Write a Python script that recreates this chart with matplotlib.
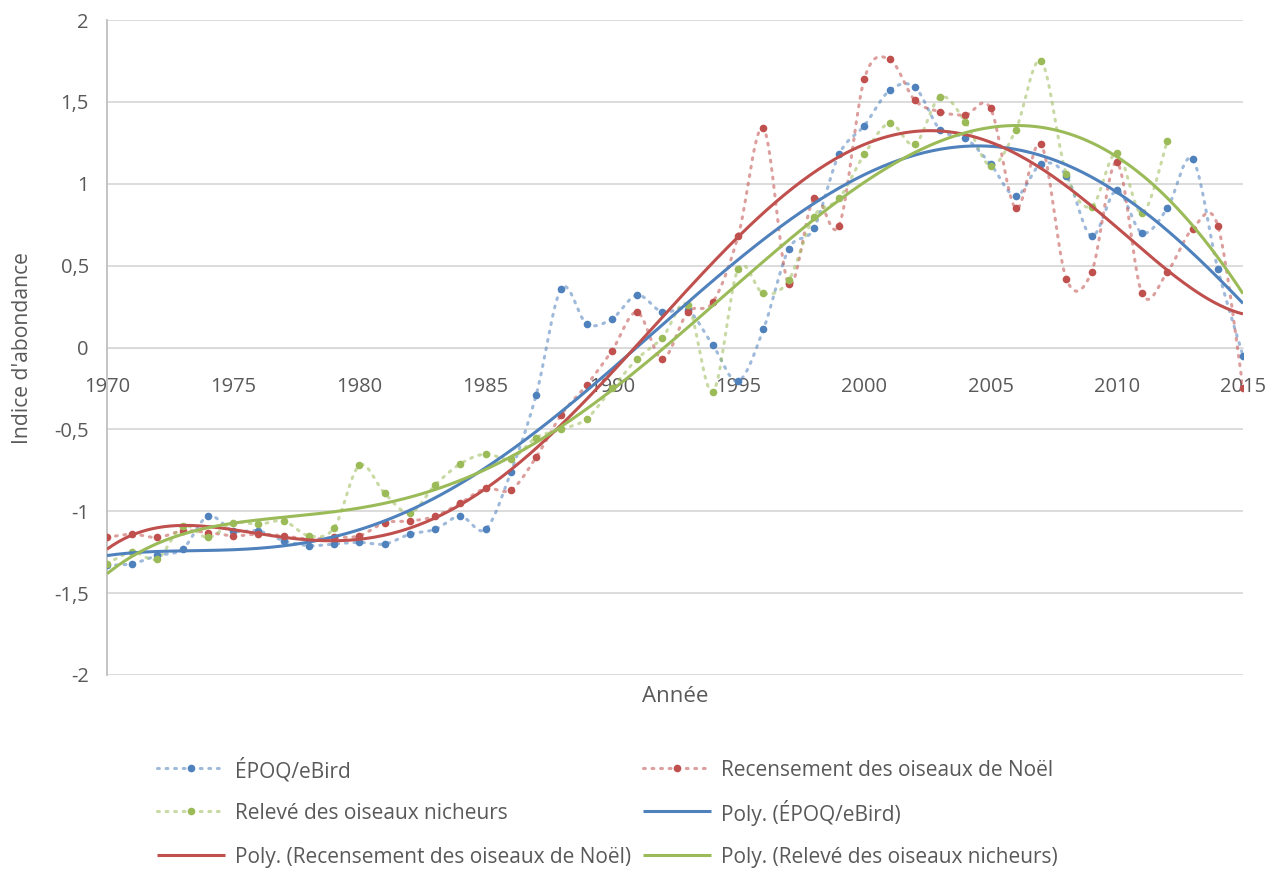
import numpy as np
import matplotlib
matplotlib.use("Agg")
import matplotlib.pyplot as plt
from matplotlib.lines import Line2D

plt.rcParams['font.family'] = ['Open Sans', 'DejaVu Sans']

years = list(range(1970, 2016))

epoq = [-1.33, -1.32, -1.27, -1.23, -1.03, -1.12, -1.12, -1.18, -1.21, -1.20,
        -1.19, -1.20, -1.14, -1.11, -1.03, -1.11, -0.76, -0.29, 0.36, 0.145,
        0.175, 0.32, 0.215, 0.23, 0.014, -0.205, 0.11, 0.60, 0.727, 1.18,
        1.355, 1.57, 1.59, 1.33, 1.28, 1.12, 0.925, 1.12, 1.05, 0.68,
        0.96, 0.70, 0.85, 1.15, 0.48, -0.05]

noel = [-1.16, -1.14, -1.16, -1.12, -1.13, -1.15, -1.14, -1.15, -1.17, -1.16,
        -1.15, -1.07, -1.06, -1.03, -0.95, -0.86, -0.87, -0.67, -0.41, -0.23,
        -0.02, 0.215, -0.07, 0.215, 0.277, 0.68, 1.34, 0.39, 0.91, 0.745,
        1.64, 1.76, 1.51, 1.44, 1.42, 1.46, 0.85, 1.24, 0.42, 0.46,
        1.13, 0.33, 0.46, 0.725, 0.745, -0.25]

nicheurs = [-1.32, -1.25, -1.29, -1.09, -1.16, -1.07, -1.08, -1.06, -1.15, -1.10,
            -0.72, -0.89, -1.01, -0.84, -0.71, -0.65, -0.68, -0.55, -0.50, -0.435,
            -0.25, -0.07, 0.06, 0.26, -0.27, 0.48, 0.33, 0.41, 0.80, 0.91,
            1.18, 1.37, 1.24, 1.53, 1.38, 1.11, 1.33, 1.75, 1.06, 0.86,
            1.19, 0.82, 1.26, None, None, None]

labels = ["ÉPOQ/eBird", "Recensement des oiseaux de Noël", "Relevé des oiseaux nicheurs"]
colors = ["#4F81BD", "#C0504D", "#9BBB59"]
x_ticks = [1970, 1975, 1980, 1985, 1990, 1995, 2000, 2005, 2010, 2015]
y_ticks = [-2, -1.5, -1, -0.5, 0, 0.5, 1, 1.5, 2]
y_tick_labels = ["-2", "-1,5", "-1", "-0,5", "0", "0,5", "1", "1,5", "2"]
poly_order = 5

W, H = 1271, 869


def smooth(x, y, n=20):
    """Excel-like smoothed line (Catmull-Rom Bezier)."""
    x = np.asarray(x, float); y = np.asarray(y, float)
    P = np.column_stack([x, y])
    out = [P[0]]
    for i in range(len(P) - 1):
        p0 = P[i - 1] if i > 0 else P[i]
        p1 = P[i]; p2 = P[i + 1]
        p3 = P[i + 2] if i + 2 < len(P) else P[i + 1]
        c1 = p1 + (p2 - p0) / 6.0
        c2 = p2 - (p3 - p1) / 6.0
        t = np.linspace(0, 1, n)[1:, None]
        b = ((1 - t) ** 3) * p1 + 3 * ((1 - t) ** 2) * t * c1 + 3 * (1 - t) * t ** 2 * c2 + t ** 3 * p2
        out.extend(b)
    out = np.array(out)
    return out[:, 0], out[:, 1]


fig = plt.figure(figsize=(W / 100, H / 100), dpi=100)
ax = fig.add_axes([107 / W, 1 - 675 / H, (1243 - 107) / W, (675 - 20) / H])

text_color = "#595959"
DOT = (0, (0.6, 2.2))
for yv in y_ticks:
    ax.axhline(yv, color="#D9D9D9", lw=1.3, zorder=0)

series = [epoq, noel, nicheurs]
xfine = np.linspace(1970, 2015, 400)
for vals, col in zip(series, colors):
    xs = np.array([yr for yr, v in zip(years, vals) if v is not None], float)
    ys = np.array([v for v in vals if v is not None], float)
    sx, sy = smooth(xs, ys)
    ax.plot(sx, sy, color=col, lw=2.2, ls=DOT, dash_capstyle='round',
            alpha=0.55, zorder=2)
    ax.plot(xs, ys, 'o', color=col, ms=5.5, mec='none', zorder=3)

for vals, col in zip(series, colors):
    xs = np.array([yr for yr, v in zip(years, vals) if v is not None], float)
    ys = np.array([v for v in vals if v is not None], float)
    c = np.polyfit(xs - 1992.5, ys, poly_order)
    ax.plot(xfine, np.polyval(c, xfine - 1992.5), color=col, lw=2.2, zorder=4,
            solid_capstyle='butt')

ax.set_xlim(1970, 2015)
ax.set_ylim(-2, 2)
ax.set_xticks(x_ticks)
ax.set_xticklabels([str(t) for t in x_ticks])
ax.set_yticks(y_ticks)
ax.set_yticklabels(y_tick_labels)
for s in ["top", "right"]:
    ax.spines[s].set_visible(False)
ax.spines["bottom"].set_position(("data", 0))
ax.spines["bottom"].set_color("#D9D9D9")
ax.spines["bottom"].set_zorder(0)
ax.spines["left"].set_color("#BFBFBF")
ax.spines["left"].set_linewidth(1.3)
ax.tick_params(axis="both", length=0, labelsize=14.5, colors=text_color)
ax.tick_params(axis="x", pad=21)
ax.tick_params(axis="y", pad=13)
ax.patch.set_alpha(0)

fig.text(675 / W, 1 - 697 / H, "Année", ha="center", va="center",
         fontsize=16, color=text_color)
fig.text(22 / W, 1 - 348 / H, "Indice d'abondance", ha="center", va="center",
         rotation=90, fontsize=15.2, color=text_color)

# legend (two columns, three rows)
entries = [
    (157, 768, colors[0], True, labels[0]),
    (643, 768, colors[1], True, labels[1]),
    (157, 811, colors[2], True, labels[2]),
    (643, 811, colors[0], False, "Poly. (" + labels[0] + ")"),
    (157, 855, colors[1], False, "Poly. (" + labels[1] + ")"),
    (643, 855, colors[2], False, "Poly. (" + labels[2] + ")"),
]
for x0, yc, col, dotted, lab in entries:
    yf = 1 - yc / H
    xa, xb = x0 / W, (x0 + 68) / W
    if dotted:
        fig.add_artist(Line2D([xa, xb], [yf, yf], transform=fig.transFigure, color=col,
                              lw=2.2, ls=DOT, dash_capstyle='round', alpha=0.55))
        fig.add_artist(Line2D([(xa + xb) / 2], [yf], transform=fig.transFigure, color=col,
                              marker='o', ms=5.5, mec='none', ls='none'))
    else:
        fig.add_artist(Line2D([xa, xb], [yf, yf], transform=fig.transFigure, color=col,
                              lw=2.2, solid_capstyle='butt'))
    fig.text((x0 + 78) / W, yf, lab, ha="left", va="center_baseline",
             fontsize=15, color=text_color)

fig.savefig("out.png", dpi=100)
